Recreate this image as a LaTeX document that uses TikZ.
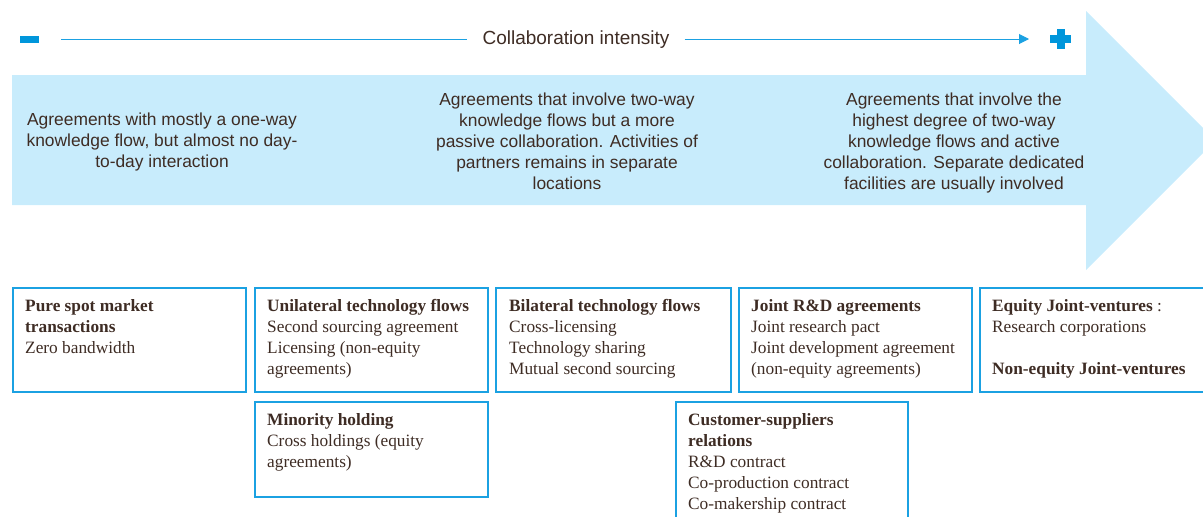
\documentclass[tikz,border=0pt]{standalone}
\usepackage{fontspec}
\setmainfont{Liberation Serif}
\newfontfamily\sansf{Liberation Sans}
\usetikzlibrary{arrows.meta}
\definecolor{bandblue}{RGB}{200,236,252}
\definecolor{lineblue}{RGB}{27,161,226}
\definecolor{signblue}{RGB}{0,150,219}
\definecolor{txt}{RGB}{62,44,36}
\begin{document}
\begin{tikzpicture}[x=1pt,y=-1pt,
  box/.style={draw=lineblue, line width=1.5pt, anchor=north west, inner sep=0pt},
  boxtext/.style={anchor=north west, inner sep=0pt, align=left, text=txt,
    font=\fontsize{17.3}{21}\selectfont, execute at begin node=\strut},
  bandtext/.style={align=center, text=txt, inner sep=0pt,
    font=\sansf\fontsize{17.4}{21}\selectfont,
    execute at begin node=\strut, execute at end node=\strut},
]
\useasboundingbox (0,0) rectangle (1203,517);
\clip (0,0) rectangle (1203,517);

% big arrow band
\fill[bandblue] (12,75) -- (1086,75) -- (1086,11) -- (1215.5,140.5) -- (1086,270) -- (1086,205) -- (12,205) -- cycle;

% intensity scale
\node[fill=signblue, minimum width=19pt, minimum height=7pt, inner sep=0pt] (minus) at (29.5,39.5) {};
\node[minimum size=20pt, inner sep=0pt] (plus) at (1060.5,39) {};
\fill[signblue] ([xshift=-4pt]plus.north) rectangle ([xshift=4pt]plus.south);
\fill[signblue] ([yshift=4pt]plus.west) rectangle ([yshift=-4pt]plus.east);
\node[text=txt, font=\sansf\fontsize{19}{23}\selectfont, inner xsep=15pt, inner ysep=0pt] (title) at (576,40) {Collaboration intensity};
\coordinate (ls) at (61,39);
\coordinate (le) at (1029,39);
\draw[lineblue, line width=1pt] (ls) -- (ls -| title.west);
\draw[lineblue, line width=1pt, -{Triangle[length=10pt,width=10pt]}] (le -| title.east) -- (le);

% band texts
\node[bandtext] (d1) at (162,143) {Agreements with mostly a one-way\\knowledge flow, but almost no day-\\to-day interaction};
\node[bandtext] (d2) at (567,144) {Agreements that involve two-way\\knowledge flows but a more\\passive collaboration. Activities of\\partners remains in separate\\locations};
\node[bandtext] (d3) at (954,144) {Agreements that involve the\\highest degree of two-way\\knowledge flows and active\\collaboration. Separate dedicated\\facilities are usually involved};

% boxes
\node[box, minimum width=233pt, minimum height=104pt] (b1) at (12,287) {};
\node[box, minimum width=233pt, minimum height=104pt] (b2) at (254,287) {};
\node[box, minimum width=235pt, minimum height=104pt] (b3) at (495,287) {};
\node[box, minimum width=233pt, minimum height=104pt] (b4) at (738,287) {};
\node[box, minimum width=240pt, minimum height=104pt] (b5) at (979,287) {};
\node[box, minimum width=233pt, minimum height=95pt] (b6) at (254,401) {};
\node[box, minimum width=232pt, minimum height=125pt] (b7) at (675,401) {};

\node[boxtext] (t1) at ([shift={(13pt,-12.3pt)}]b1.north west) {\textbf{Pure spot market}\\\textbf{transactions}\\Zero bandwidth};
\node[boxtext] (t2) at ([shift={(13pt,-12.3pt)}]b2.north west) {\textbf{Unilateral technology flows}\\Second sourcing agreement\\Licensing (non-equity\\agreements)};
\node[boxtext] (t3) at ([shift={(14pt,-12.3pt)}]b3.north west) {\textbf{Bilateral technology flows}\\Cross-licensing\\Technology sharing\\Mutual second sourcing};
\node[boxtext] (t4) at ([shift={(13pt,-12.3pt)}]b4.north west) {\textbf{Joint R\&D agreements}\\Joint research pact\\Joint development agreement\\(non-equity agreements)};
\node[boxtext] (t5) at ([shift={(13pt,-12.3pt)}]b5.north west) {\textbf{Equity Joint-ventures} :\\Research corporations\\\strut\\\textbf{Non-equity Joint-ventures}};
\node[boxtext] (t6) at ([shift={(13pt,-12.3pt)}]b6.north west) {\textbf{Minority holding}\\Cross holdings (equity\\agreements)};
\node[boxtext] (t7) at ([shift={(13pt,-12.3pt)}]b7.north west) {\textbf{Customer-suppliers}\\\textbf{relations}\\R\&D contract\\Co-production contract\\Co-makership contract};
\end{tikzpicture}
\end{document}
